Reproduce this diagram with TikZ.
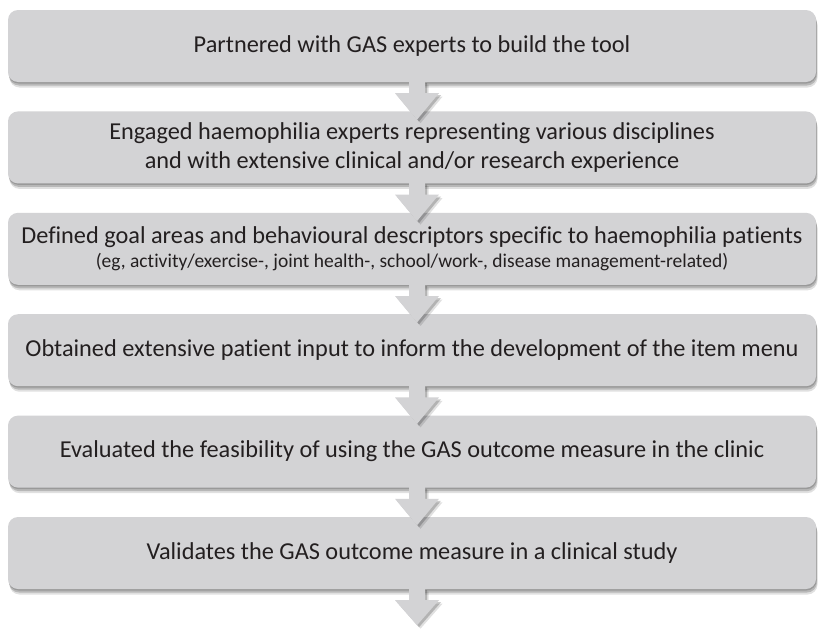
\documentclass[tikz,border=0pt]{standalone}
\usepackage{fontspec}
\setmainfont{Carlito}[Ligatures=NoCommon]
\usetikzlibrary{calc}
\definecolor{boxgray}{HTML}{D3D3D5}
\definecolor{txtgray}{HTML}{231F20}
\tikzset{
  softshadow/.style={
    preaction={fill=black,opacity=0.16,transform canvas={xshift=0.5pt,yshift=-1.5pt}},
    preaction={fill=black,opacity=0.18,transform canvas={xshift=1pt,yshift=-3.5pt}},
    preaction={fill=black,opacity=0.12,transform canvas={xshift=1.5pt,yshift=-5.5pt}}},
  stepbox/.style={softshadow, fill=boxgray, rounded corners=10pt,
    minimum width=808pt, minimum height=72pt, inner sep=0pt,
    align=center, text=txtgray, font=\fontsize{24.3}{29.5}\selectfont},
  arrowfill/.style={fill=boxgray,
    preaction={fill=black,opacity=0.2,transform canvas={xshift=2pt,yshift=-2pt}},
    preaction={fill=black,opacity=0.12,transform canvas={xshift=3.5pt,yshift=-3.5pt}}}
}
\newcommand\blockarrow[2]{%
  \path let \p1=($(#1.south)+(5pt,0)$), \p2=(#2) in
    [arrowfill] (\x1-8pt,\y1+1pt) -- (\x1-8pt,\y1-11pt) -- (\x1-22pt,\y1-11pt)
    -- (\x1,\y2) -- (\x1+22pt,\y1-11pt) -- (\x1+8pt,\y1-11pt)
    -- (\x1+8pt,\y1+1pt) -- cycle;}
\begin{document}
\begin{tikzpicture}[x=1pt,y=1pt]
\useasboundingbox (0,0) rectangle (822,-629);
\fill[white] (0,0) rectangle (822,-629);
\node[stepbox] (b1) at (412,-46) {\raisebox{-4pt}{Partnered with GAS experts to build the tool}};
\node[stepbox] (b2) at (412,-147.4) {Engaged haemophilia experts representing various disciplines\\and with extensive clinical and/or research experience};
\node[stepbox] (b3) at (412,-248.8) {Defined goal areas and behavioural descriptors specific to haemophilia patients\\[-5pt]{\fontsize{19.5}{24}\selectfont (eg, activity/exercise-, joint health-, school/work-, disease management-related)}};
\node[stepbox] (b4) at (412,-350.2) {Obtained extensive patient input to inform the development of the item menu};
\node[stepbox] (b5) at (412,-451.6) {Evaluated the feasibility of using the GAS outcome measure in the clinic};
\node[stepbox] (b6) at (412,-553) {Validates the GAS outcome measure in a clinical study};
\coordinate (t2) at ($(b2.north)+(5,-8.5)$);
\coordinate (t3) at ($(b3.north)+(5,-8.5)$);
\coordinate (t4) at ($(b4.north)+(5,-8.5)$);
\coordinate (t5) at ($(b5.north)+(5,-8.5)$);
\coordinate (t6) at ($(b6.north)+(5,-8.5)$);
\coordinate (tend) at ($(b6.south)+(5,-36)$);
\blockarrow{b1}{t2}
\blockarrow{b2}{t3}
\blockarrow{b3}{t4}
\blockarrow{b4}{t5}
\blockarrow{b5}{t6}
\blockarrow{b6}{tend}
\end{tikzpicture}
\end{document}
